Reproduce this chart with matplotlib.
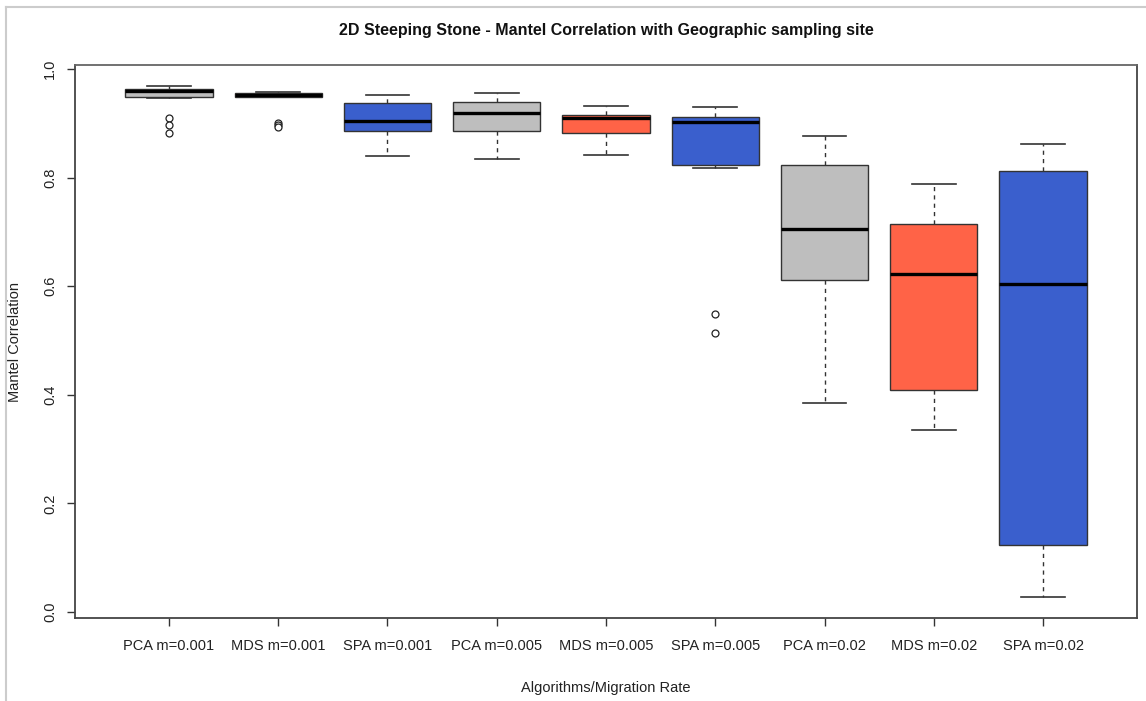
import matplotlib
matplotlib.use("Agg")
import matplotlib.pyplot as plt
from matplotlib.lines import Line2D

plt.rcParams['font.family'] = ['Liberation Sans', 'DejaVu Sans']

# five-number summaries per algorithm / migration rate
labels = ["PCA m=0.001", "MDS m=0.001", "SPA m=0.001",
          "PCA m=0.005", "MDS m=0.005", "SPA m=0.005",
          "PCA m=0.02", "MDS m=0.02", "SPA m=0.02"]
whis_lo = [0.947, 0.948, 0.839, 0.834, 0.842, 0.818, 0.385, 0.336, 0.028]
q1 = [0.948, 0.949, 0.885, 0.885, 0.883, 0.824, 0.611, 0.409, 0.124]
med = [0.959, 0.952, 0.904, 0.919, 0.909, 0.902, 0.706, 0.623, 0.605]
q3 = [0.964, 0.955, 0.937, 0.940, 0.916, 0.912, 0.824, 0.714, 0.812]
whis_hi = [0.969, 0.957, 0.953, 0.955, 0.932, 0.930, 0.876, 0.788, 0.861]
outliers = [[0.910, 0.896, 0.882], [0.901, 0.897, 0.894], [], [], [],
            [0.549, 0.513], [], [], []]
colors = ["#BEBEBE", "#FF6347", "#3A5FCD"] * 3

W, H = 1146, 701
fig = plt.figure(figsize=(W / 100, H / 100), dpi=100)
ax = fig.add_axes([75 / W, 1 - 618 / H, (1137 - 75) / W, (618 - 65) / H])

stats = []
for i in range(len(labels)):
    stats.append(dict(whislo=whis_lo[i], q1=q1[i], med=med[i], q3=q3[i],
                      whishi=whis_hi[i], fliers=outliers[i], label=labels[i]))

bp = ax.bxp(stats, positions=range(1, 10), widths=0.8, patch_artist=True,
            boxprops=dict(edgecolor="#333333", linewidth=1.0),
            medianprops=dict(color="black", linewidth=2.4, solid_capstyle="butt"),
            whiskerprops=dict(color="#333333", linewidth=1.0, linestyle=(0, (3, 3))),
            capprops=dict(color="#333333", linewidth=1.2),
            flierprops=dict(marker="o", markersize=5, markerfacecolor="white",
                            markeredgecolor="#222222", markeredgewidth=0.9))
for box, c in zip(bp["boxes"], colors):
    box.set_facecolor(c)
# staples half the box width
for cap in bp["caps"]:
    x0, x1 = cap.get_xdata()
    cx = (x0 + x1) / 2
    cap.set_xdata([cx - 0.2, cx + 0.2])

ax.set_xlim(0.14, 9.86)
ax.set_ylim(-0.011, 1.0074)
ax.set_yticks([0.0, 0.2, 0.4, 0.6, 0.8, 1.0])
ax.set_yticklabels(["0.0", "0.2", "0.4", "0.6", "0.8", "1.0"])
for t in ax.get_yticklabels():
    t.set_rotation(90)
    t.set_va("center")
ax.tick_params(axis="y", length=6, width=1, color="#333333", pad=7,
               labelsize=10.5, labelcolor="#222222")
ax.tick_params(axis="x", length=6, width=1, color="#333333", pad=9,
               labelsize=10.5, labelcolor="#222222")
for s in ax.spines.values():
    s.set_color("#444444")
    s.set_linewidth(1.3)
ax.spines["top"].set_color("#666666")

ax.set_xlabel("Algorithms/Migration Rate", fontsize=10.5, color="#222222", va="center")
ax.xaxis.set_label_coords(0.5, (618 - 688) / (618 - 65))
ax.set_ylabel("Mantel Correlation", fontsize=10.5, color="#222222", va="center")
ax.yaxis.set_label_coords((15 - 75) / (1137 - 75), 0.5)

fig.text(606 / W, 1 - 30 / H, "2D Steeping Stone - Mantel Correlation with Geographic sampling site",
         ha="center", va="center", fontsize=11.5, fontweight="bold", color="#111111")

# light frame around the figure
fig.add_artist(Line2D([6 / W, 6 / W], [0, 1 - 7 / H], color="#cccccc", lw=1.5))
fig.add_artist(Line2D([6 / W, 1], [1 - 7 / H, 1 - 7 / H], color="#cccccc", lw=1.5))

fig.savefig("out.png", dpi=100)
